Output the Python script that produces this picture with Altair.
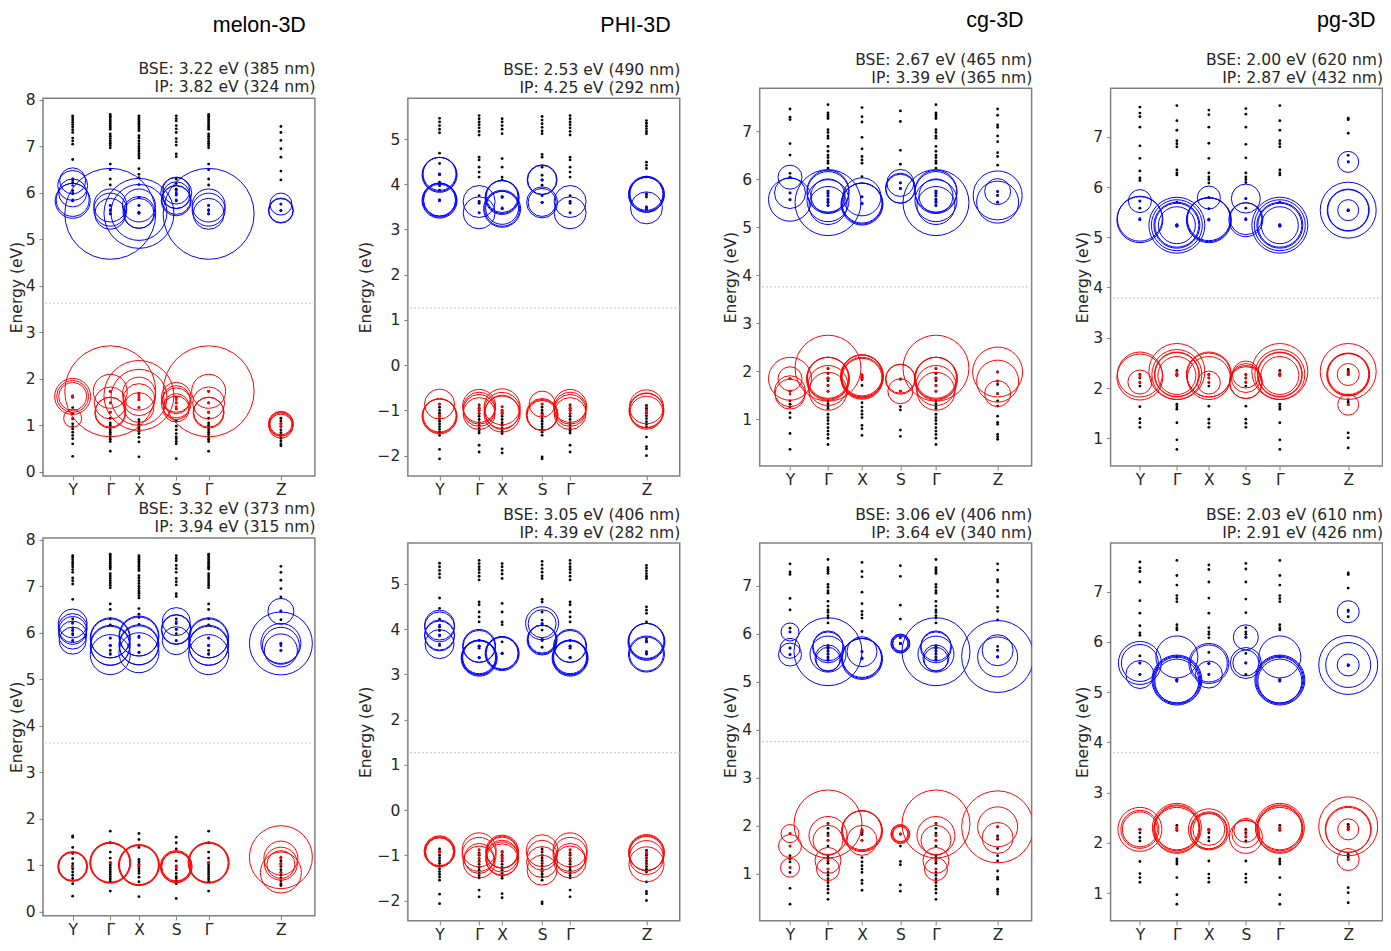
import json
import pandas as pd
import altair as alt

FONT = "DejaVu Sans"
GREY = "#808080"
TEXT = "#262626"
BLUE = "#0000ff"
RED = "#ff0000"

path = ["Y", "G", "X", "S", "G", "Z"]
path_labels = ["Y", "Γ", "X", "S", "Γ", "Z"]

# ---- melon-3D
melon_k = [29.7, 67.3, 96, 133.3, 165.7, 238]
melon_dom = [-0.093, 8.04]
melon_ticks = [0, 1, 2, 3, 4, 5, 6, 7, 8]
melon_gap = 3.627
melon_dots = {
    "Y": [7.66, 7.62, 7.57, 7.52, 7.47, 7.42, 7.36, 7.30, 7.18, 7.12, 7.05, 6.72, 6.3, 6.22, 6.05, 5.98, 5.83,
          1.63, 1.6, 1.38, 1.25, 1.14, 1.03, 0.97, 0.92, 0.85, 0.78, 0.71, 0.6, 0.33],
    "G": [7.69, 7.65, 7.61, 7.57, 7.53, 7.49, 7.45, 7.41, 7.37, 7.27, 7.22, 7.17, 7.12, 7.07, 7.02, 6.97, 6.62, 6.5,
          6.3, 6.17, 5.73, 5.62, 5.55, 1.73, 1.48, 1.28, 1.15, 1.05, 1.0, 0.95, 0.9, 0.85, 0.8, 0.75, 0.7, 0.65, 0.44],
    "X": [7.66, 7.62, 7.58, 7.54, 7.5, 7.46, 7.42, 7.38, 7.34, 7.23, 7.18, 7.12, 7.06, 7.0, 6.95, 6.9, 6.85, 6.8, 6.75,
          6.52, 6.4, 6.33, 6.18, 5.9, 5.73, 5.58, 1.68, 1.55, 1.38, 1.12, 1.07, 1.02, .97, .92, .87, .82, .74, .64, .32],
    "S": [7.66, 7.6, 7.55, 7.45, 7.38, 7.3, 7.17, 7.1, 7.03, 6.84, 6.78, 6.3, 6.2, 6.08, 5.98, 5.83,
          1.6, 1.48, 1.35, 1.09, .98, .9, .82, .75, .71, .65, .6, .28],
    "Z": [7.43, 7.3, 7.13, 6.95, 6.77, 6.47, 6.28, 5.76, 5.62, 1.15, 1.09, 1.03, .97, .9, .84, .78, .72, .66, .6, .56],
}
# circles are (energy, amplitude)
melon_top = {
    "Y": [(6.26, 26), (6.16, 30), (6.0, 28), (5.85, 33), (5.83, 35), (1.62, 36), (1.62, 32), (1.62, 28), (1.15, 18)],
    "G": [(5.55, 91), (5.73, 33), (5.64, 33), (5.55, 31), (1.73, 91), (1.73, 34), (1.48, 32), (1.28, 30), (1.27, 31)],
    "X": [(5.56, 70), (5.58, 56), (5.73, 33), (5.58, 32), (5.56, 30), (1.64, 70), (1.6, 56), (1.68, 33), (1.55, 32), (1.38, 30)],
    "S": [(6.05, 27), (6.0, 31), (5.95, 27), (5.85, 29), (5.83, 30), (1.6, 30), (1.55, 28), (1.48, 30), (1.4, 26), (1.35, 26)],
    "Z": [(5.76, 22), (5.62, 24), (5.62, 25), (1.03, 24), (1.03, 25), (1.03, 22), (0.98, 24)],
}
melon_bottom = {
    "Y": [(6.2, 29), (6.1, 29), (6.05, 28), (5.95, 28), (5.83, 27), (.97, 29), (.97, 30), (.97, 28)],
    "G": [(5.89, 40), (5.88, 39), (5.73, 40), (5.72, 39), (5.53, 40), (1.05, 40), (1.05, 39), (1.05, 41)],
    "X": [(5.93, 40), (5.92, 39), (5.74, 40), (5.73, 39), (5.57, 40), (1.0, 40), (1.0, 39), (1.0, 41)],
    "S": [(6.24, 28), (6.07, 30), (6.07, 29), (5.83, 28), (.97, 30), (.95, 31), (.97, 29), (.97, 32)],
    "Z": [(6.46, 26), (5.77, 63), (5.77, 40), (5.72, 37), (5.62, 33),
          (1.17, 63), (1.15, 34), (1.03, 33), (1.01, 28), (.84, 41)],
}

# ---- PHI-3D
phi_k = [31.7, 71.3, 94.3, 134.3, 162.3, 238.7]
phi_dom = [-2.45, 5.906]
phi_ticks = [-2, -1, 0, 1, 2, 3, 4, 5]
phi_gap = 1.27
phi_dots = {
    "Y": [5.46, 5.38, 5.3, 5.22, 5.14, 4.69, 4.46, 4.22, 4.05, 3.97, 3.87, 3.64, -.86, -.93, -1, -1.06, -1.12, -1.18,
          -1.24, -1.3, -1.36, -1.42, -1.48, -1.55, -1.86, -2.07],
    "G": [5.52, 5.45, 5.38, 5.32, 5.25, 5.17, 5.09, 4.6, 4.54, 4.38, 4.27, 4.16, 3.75, 3.62, 3.58, 3.37, -.88, -.95,
          -1.0, -1.07, -1.13, -1.2, -1.27, -1.33, -1.4, -1.45, -1.5, -1.77, -1.92],
    "X": [5.45, 5.38, 5.3, 5.22, 5.12, 4.57, 4.38, 4.16, 4.1, 3.72, 3.46, -.92, -1.0, -1.06, -1.13, -1.2, -1.27, -1.33,
          -1.4, -1.46, -1.51, -1.85, -1.94],
    "S": [5.5, 5.42, 5.34, 5.26, 5.18, 5.12, 4.66, 4.6, 4.38, 4.2, 4.09, 3.98, 3.75, 3.6, -.86, -.93, -1, -1.06, -1.12,
          -1.18, -1.24, -1.3, -1.36, -1.42, -1.48, -1.55, -2.03, -2.07],
    "Z": [5.41, 5.35, 5.29, 5.23, 5.17, 5.12, 4.49, 4.42, 4.35, 4.16, 3.79, 3.72, 3.5, 3.45, -.89, -.95, -1, -1.06,
          -1.12, -1.18, -1.25, -1.31, -1.37, -1.59, -1.8, -1.85, -2],
}
phi_top = {
    "Y": [(4.22, 34), (4.23, 33), (4.21, 35), (3.65, 34), (3.66, 33), (3.64, 35), (3.65, 32),
          (-.86, 30), (-1.12, 34), (-1.11, 33), (-1.13, 35)],
    "G": [(3.62, 32), (3.37, 32), (-.95, 32), (-1.0, 32), (-1.07, 32), (-.9, 33)],
    "X": [(3.72, 33), (3.73, 32), (3.71, 34), (3.46, 35), (3.48, 33), (3.46, 37), (-.92, 36), (-1.0, 36), (-1.08, 36), (-1.04, 34)],
    "S": [(4.1, 30), (4.1, 29), (3.6, 31), (3.6, 28), (-.86, 26), (-1.1, 31), (-1.11, 30), (-1.09, 32)],
    "Z": [(3.78, 34), (3.79, 33), (3.77, 35), (3.78, 36), (3.48, 32), (-.92, 34), (-1, 34), (-1, 35), (-1.05, 33)],
}
phi_bottom = {
    "Y": [(4.09, 30), (4.05, 30), (3.87, 30), (3.85, 30), (3.67, 29), (-.92, 30), (-.93, 29), (-.92, 28), (-.91, 31)],
    "G": [(3.62, 32), (3.63, 33), (3.37, 34), (3.38, 33), (3.37, 35), (3.36, 36), (-.88, 34), (-.98, 34), (-1.15, 32), (-1.07, 30)],
    "X": [(3.47, 33), (3.47, 32), (3.46, 34), (-.93, 32), (-.92, 33), (-.94, 31), (-1.02, 32), (-1.1, 32), (-1.07, 33)],
    "S": [(4.13, 33), (4.12, 28), (3.77, 29), (3.76, 30), (3.78, 28), (-.9, 32), (-1.0, 30), (-1.15, 31), (-1.33, 30)],
    "Z": [(3.73, 36), (3.74, 35), (3.72, 37), (3.45, 36), (3.45, 34), (-.95, 35), (-.94, 36), (-.96, 34), (-1.05, 34), (-1.2, 35)],
}

# ---- cg-3D
cg_k = [30.3, 68.3, 102.3, 140.7, 176.3, 238]
cg_dom = [0.022, 7.895]
cg_ticks = [1, 2, 3, 4, 5, 6, 7]
cg_gap = 3.755
cg_dots = {
    "Y": [7.46, 7.29, 7.24, 6.74, 6.5, 6.12, 6.04, 5.71, 5.57, 1.84, 1.58, 1.38, 1.31, 1.25, 1.13, 1.03, .7, .37],
    "G": [7.55, 7.38, 7.34, 7.3, 7.26, 7.03, 6.97, 6.9, 6.85, 6.68, 6.58, 6.5, 6.45, 6.38, 6.33, 6.23, 5.75, 5.7, 5.65,
          5.58, 5.52, 5.45, 2.05, 1.95, 1.85, 1.8, 1.7, 1.58, 1.38, 1.32, 1.27, 1.22, 1.1, 1.03, .97, .9, .82, .75, .68, .6, .47],
    "X": [7.49, 7.3, 7.19, 6.87, 6.63, 6.47, 6.4, 6.33, 6.05, 5.63, 5.49, 1.92, 1.87, 1.82, 1.7, 1.34, 1.25, 1.17, 1.1,
          1.03, .87, .8, .66],
    "S": [7.42, 7.2, 6.6, 6.31, 5.92, 5.8, 1.83, 1.58, 1.26, 1.19, .77, .64],
    "Z": [7.46, 7.33, 7.13, 7.08, 6.9, 6.78, 6.55, 6.47, 6.29, 5.74, 5.66, 5.52, 1.98, 1.79, 1.72, 1.53, 1.38, 1.27,
          1.06, .93, .89, .68, .63, .58],
}
cg_top = {
    "Y": [(6.04, 24), (5.71, 31), (5.57, 43), (1.84, 43), (1.84, 24), (1.58, 31), (1.52, 30)],
    "G": [(5.51, 66), (5.75, 42), (5.72, 42), (5.55, 42), (5.45, 38), (5.65, 34),
          (2.06, 66), (1.85, 42), (1.86, 41), (1.84, 43), (1.7, 40), (1.58, 38)],
    "X": [(5.63, 38), (5.49, 41), (5.48, 42), (5.5, 40), (1.9, 42), (1.91, 41), (1.89, 43), (1.85, 42), (1.85, 40)],
    "S": [(5.92, 27), (5.8, 29), (5.81, 30), (1.83, 30), (1.84, 29), (1.58, 25)],
    "Z": [(5.66, 49), (5.52, 42), (5.74, 26), (1.98, 50), (1.79, 42), (1.53, 26)],
}
cg_bottom = {
    "Y": [(6.04, 18), (5.7, 20), (5.57, 23), (1.84, 18), (1.58, 23), (1.13, 19)],
    "G": [(5.63, 68), (5.75, 30), (5.72, 31), (5.58, 36), (5.5, 26), (5.47, 24),
          (2.04, 68), (1.8, 38), (1.7, 30), (1.28, 26), (1.1, 23)],
    "X": [(5.63, 30), (5.49, 40), (5.48, 41), (5.5, 39), (1.9, 40), (1.91, 39), (1.89, 41), (1.7, 30)],
    "S": [(5.8, 19), (5.8, 18), (5.8, 16), (5.8, 15), (1.83, 19), (1.83, 18), (1.83, 16), (1.83, 15)],
    "Z": [(5.53, 72), (5.52, 40), (5.66, 31), (1.98, 72), (1.98, 40), (1.75, 31)],
}

# ---- pg-3D
pg_k = [29.3, 66.3, 98.3, 135.3, 169.3, 237.7]
pg_dom = [0.45, 7.967]
pg_ticks = [1, 2, 3, 4, 5, 6, 7]
pg_gap = 3.79
pg_dots = {
    "Y": [7.59, 7.47, 7.4, 7.19, 6.82, 6.57, 6.32, 6.18, 6.13, 5.72, 5.58, 5.35, 2.27, 2.2, 2.11, 2.04, 1.63, 1.39, 1.31, 1.22],
    "G": [7.62, 7.32, 7.13, 6.92, 6.86, 6.8, 6.34, 6.28, 6.24, 5.7, 5.25, 5.22, 2.35, 2.28, 2.25, 1.68, 1.63, 1.58, 1.31, .97, .78],
    "X": [7.53, 7.44, 7.19, 6.87, 6.57, 6.28, 6.2, 6.15, 6.08, 5.79, 5.57, 5.35, 2.27, 2.2, 2.11, 2.04, 1.64, 1.38, 1.3, 1.22],
    "S": [7.56, 7.45, 7.19, 6.85, 6.58, 6.28, 6.2, 6.15, 6.09, 5.77, 5.58, 5.35, 2.27, 2.2, 2.12, 2.04, 1.64, 1.38, 1.3, 1.22],
    "Z": [7.37, 7.34, 7.07, 6.63, 6.5, 5.54, 5.53, 2.37, 2.33, 2.3, 2.27, 1.77, 1.72, 1.67, 1.11, 1.01, .81],
}
pg_top = {
    "Y": [(5.72, 23), (5.35, 46), (5.37, 45), (2.27, 45), (2.22, 46), (2.12, 24)],
    "G": [(5.24, 56), (5.24, 51), (5.24, 46), (5.24, 44), (5.24, 37), (2.33, 56), (2.27, 50), (2.27, 45), (2.27, 44), (2.25, 38)],
    "X": [(5.79, 23), (5.35, 44), (5.36, 43), (5.34, 45), (2.27, 45), (2.26, 44), (2.2, 43), (2.11, 23)],
    "S": [(5.77, 29), (5.35, 34), (5.37, 32), (2.27, 27), (2.2, 29), (2.12, 33), (2.11, 32)],
    "Z": [(6.5, 21), (5.54, 56), (5.54, 42), (5.54, 41), (5.54, 21), (2.33, 56), (2.27, 42), (2.28, 41), (2.27, 43), (2.27, 22), (1.67, 21)],
}
pg_bottom = {
    "Y": [(5.58, 43), (5.58, 37), (5.35, 28), (2.27, 44), (2.27, 38), (2.27, 35)],
    "G": [(5.7, 42), (5.24, 50), (5.24, 48), (5.24, 46), (5.22, 44), (2.3, 49), (2.3, 46), (2.25, 46), (2.3, 44)],
    "X": [(5.57, 40), (5.57, 37), (5.35, 27), (2.27, 41), (2.25, 37), (2.24, 36), (2.27, 32)],
    "S": [(6.09, 25), (5.58, 31), (5.58, 26), (2.25, 24), (2.18, 28), (2.12, 33)],
    "Z": [(6.6, 22), (5.54, 59), (5.54, 45), (5.54, 22), (2.33, 59), (2.27, 46), (2.26, 45), (2.27, 21), (1.67, 22)],
}

W = 272
H = 378


def panel(k, dom, ticks, gap, dots, circles, title, y_pad, title_off):
    dot_rows = []
    circle_rows = []
    for pos, name in zip(k, path):
        dot_rows += [{"k": pos, "e": e} for e in dots[name]]
        circle_rows += [{"k": pos, "e": e, "amp": a, "band": "c" if e > gap else "v"} for e, a in circles[name]]
    dot_df = pd.DataFrame(dot_rows)
    circle_df = pd.DataFrame(circle_rows)

    label_expr = "%s[indexof(%s, datum.value)]" % (json.dumps(path_labels, ensure_ascii=False), json.dumps(k))
    x = alt.X("k:Q", scale=alt.Scale(domain=[0, W], nice=False, zero=False),
              axis=alt.Axis(values=k, labelExpr=label_expr, title=None, grid=False, domain=False,
                            labelFontSize=15.5, labelFont=FONT, labelColor=TEXT, tickColor=GREY,
                            tickSize=4, labelOverlap=False, labelFlush=False, labelPadding=3))
    y = alt.Y("e:Q", scale=alt.Scale(domain=dom, nice=False, zero=False),
              axis=alt.Axis(values=ticks, title="Energy (eV)", grid=False, domain=False, format="d",
                            labelFontSize=15.5, labelFont=FONT, labelColor=TEXT, tickColor=GREY, tickSize=4,
                            titleFontSize=15.5, titleFont=FONT, titleFontWeight="normal", titleColor=TEXT,
                            titlePadding=y_pad, labelPadding=4))
    color = alt.Color("band:N", scale=alt.Scale(domain=["c", "v"], range=[BLUE, RED]), legend=None)

    gap_line = (
        alt.Chart(pd.DataFrame({"e": [gap]}))
        .mark_rule(color="#bdbdbd", strokeWidth=1.2, strokeDash=[1.5, 2.5])
        .encode(y=alt.Y("e:Q", scale=alt.Scale(domain=dom, nice=False, zero=False)))
    )
    black = (
        alt.Chart(dot_df)
        .mark_point(filled=True, shape="circle", size=8, color="black", opacity=1)
        .encode(x=x, y=y)
    )
    rings = (
        alt.Chart(circle_df)
        .mark_point(filled=False, shape="circle", strokeWidth=1, opacity=1, clip=True)
        .encode(x=x, y=y, color=color,
                size=alt.Size("amp:Q", legend=None,
                              scale=alt.Scale(type="pow", exponent=2, domain=[0, 100], range=[0, 10000])))
    )
    centers = (
        alt.Chart(circle_df)
        .mark_point(filled=True, shape="circle", size=7, opacity=1)
        .encode(x=x, y=y, color=color)
    )
    return alt.layer(gap_line, black, rings, centers).properties(
        width=W, height=H,
        title=alt.TitleParams(text=title, anchor="end", font=FONT, fontSize=15.6, fontWeight="normal",
                              color=TEXT, lineHeight=18, offset=title_off),
        view=alt.ViewConfig(stroke=GREY, strokeWidth=1.5),
    )


def spacer(h):
    return alt.Chart(pd.DataFrame({"t": [""]})).mark_text().encode(text="t:N").properties(width=W, height=h)


def header(name, h, right, base):
    return (
        alt.Chart(pd.DataFrame({"t": [name]}))
        .mark_text(align="right", baseline="alphabetic", font="Liberation Sans", fontSize=21.5, color="black")
        .encode(text="t:N", x=alt.value(right), y=alt.value(base))
        .properties(width=W, height=h)
    )


def column(name, hdr, gap_h, right, base, k, dom, ticks, gap, dots, top, bottom, t1, t2, y_pad, title_off):
    return alt.vconcat(
        header(name, hdr, right, base),
        panel(k, dom, ticks, gap, dots, top, t1, y_pad, title_off),
        spacer(gap_h),
        panel(k, dom, ticks, gap, dots, bottom, t2, y_pad, title_off),
        spacing=0, bounds="flush",
    )


col1 = column("melon-3D", 89.5, 62, 263, 24, melon_k, melon_dom, melon_ticks, melon_gap, melon_dots, melon_top, melon_bottom,
              ["BSE: 3.22 eV (385 nm)", "IP: 3.82 eV (324 nm)"], ["BSE: 3.32 eV (373 nm)", "IP: 3.94 eV (315 nm)"], 0.5, -3)
col2 = column("PHI-3D", 89.5, 67, 263, 24, phi_k, phi_dom, phi_ticks, phi_gap, phi_dots, phi_top, phi_bottom,
              ["BSE: 2.53 eV (490 nm)", "IP: 4.25 eV (292 nm)"], ["BSE: 3.05 eV (406 nm)", "IP: 4.39 eV (282 nm)"], 4, 1.5)
col3 = column("cg-3D", 80, 77, 264, 19, cg_k, cg_dom, cg_ticks, cg_gap, cg_dots, cg_top, cg_bottom,
              ["BSE: 2.67 eV (465 nm)", "IP: 3.39 eV (365 nm)"], ["BSE: 3.06 eV (406 nm)", "IP: 3.64 eV (340 nm)"], 3.5, 1.5)
col4 = column("pg-3D", 80, 77, 265, 19, pg_k, pg_dom, pg_ticks, pg_gap, pg_dots, pg_top, pg_bottom,
              ["BSE: 2.00 eV (620 nm)", "IP: 2.87 eV (432 nm)"], ["BSE: 2.03 eV (610 nm)", "IP: 2.91 eV (426 nm)"], 2.5, 1.5)

chart = (
    alt.hconcat(col1, col2, col3, col4, spacing=40)
    .properties(padding={"left": 0, "top": 0, "right": -1.5, "bottom": -1}, background="white")
    .configure_view(stroke=None)
)

chart.save("out.html", embed_options={"renderer": "svg", "actions": False})
